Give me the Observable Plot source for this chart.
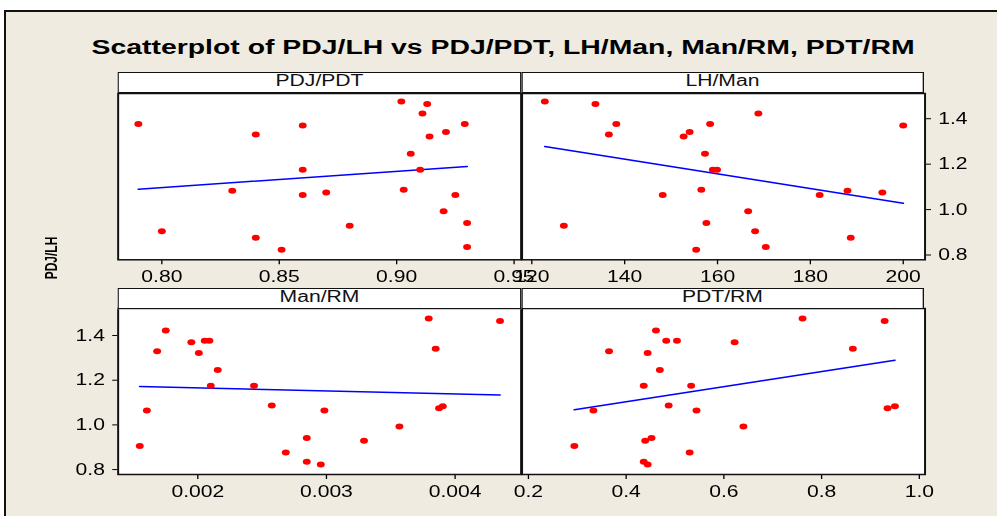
<!DOCTYPE html>
<html><head><meta charset="utf-8">
<script src="https://cdn.jsdelivr.net/npm/d3@7"></script>
<script src="https://cdn.jsdelivr.net/npm/@observablehq/plot@0.6"></script>
<style>
html,body{margin:0;padding:0;background:#fff;}
body{width:997px;height:516px;overflow:hidden;position:relative;font-family:"Liberation Sans",Arial,sans-serif;}
#bg{position:absolute;left:4px;top:10px;width:993px;height:506px;background:#efebe0;border-top:2px solid #111;border-left:2px solid #111;box-sizing:border-box;}
#title{position:absolute;top:37px;left:5px;width:997px;text-align:center;font-weight:bold;font-size:20px;line-height:20px;color:#000;white-space:nowrap;}
#title span{display:inline-block;transform-origin:50% 50%;}
#root{position:absolute;left:0;top:0;width:756px;height:516px;transform:scaleX(1.32);transform-origin:0 0;}
.hdr{position:absolute;box-sizing:border-box;border:1.5px solid #111;background:#fff;text-align:center;font-size:16px;line-height:16px;color:#111;white-space:nowrap;}
.panel{position:absolute;}
.panel svg{overflow:visible;}
#ylab{position:absolute;font-weight:bold;font-size:12px;color:#000;white-space:nowrap;transform:translate(-50%,-50%) rotate(-90deg);}
</style>
</head><body>
<div id="bg"></div>
<div id="title"><span>Scatterplot of PDJ/LH vs PDJ/PDT, LH/Man, Man/RM, PDT/RM</span></div>
<div id="root"></div>
<script>
// ---- data (one entry per observation) ----
const pdjLH  = [1.476,1.465,1.423,1.377,1.377,1.370,1.341,1.330,1.322,1.246,1.175,1.175,1.087,1.083,1.075,1.064,1.064,0.993,0.941,0.929,0.905,0.876,0.835,0.823];
const pdjPDT = [0.902,0.913,0.911,0.790,0.929,0.860,0.921,0.840,0.914,0.906,0.860,0.910,0.903,0.830,0.870,0.860,0.925,0.920,0.930,0.880,0.800,0.840,0.930,0.851];
const lhMan  = [122.8,133.7,168.8,138.2,158.4,200.0,154.0,136.6,152.7,157.3,159.0,159.9,156.5,188.0,195.5,148.2,182.0,166.6,157.6,126.9,168.1,188.7,170.4,155.4];
const manRM  = [0.003795,0.004349,0.001751,0.002054,0.002090,0.001950,0.003849,0.001684,0.002008,0.002155,0.002101,0.002437,0.002575,0.003904,0.003875,0.001604,0.002984,0.003567,0.002847,0.003292,0.001549,0.002684,0.002847,0.002956];
const pdtRM  = [0.761,0.929,0.461,0.482,0.504,0.622,0.864,0.365,0.444,0.469,0.436,0.533,0.487,0.950,0.935,0.333,0.544,0.640,0.452,0.439,0.294,0.530,0.436,0.444];

const panelNames = ["PDJ/PDT","LH/Man","Man/RM","PDT/RM"];
const yName = "PDJ/LH";
const xTicksPDJPDT = [0.80,0.85,0.90,0.95];
const xTicksLHMan  = [120,140,160,180,200];
const xTicksManRM  = [0.002,0.003,0.004];
const xTicksPDTRM  = [0.2,0.4,0.6,0.8,1.0];
const yTicks = [0.8,1.0,1.2,1.4];

// ---- layout ----
const S = 1.32; // horizontal stretch of the original picture
const root = document.getElementById("root");
const gx = [118, 521, 924].map(v => v / S);
const rowsL = [
  {hTop: 72, pTop: 92.7, pBot: 259, yDomain: [0.779, 1.511]},
  {hTop: 288, pTop: 308, pBot: 474, yDomain: [0.778, 1.521]}
];
const panels = [
  {name: panelNames[0], xs: pdjPDT, col: 0, row: 0, domain: [0.7814, 0.953], ticks: xTicksPDJPDT, fmt: d3.format(".2f"), yAxis: null},
  {name: panelNames[1], xs: lhMan,  col: 1, row: 0, domain: [117.9, 204.7], ticks: xTicksLHMan, fmt: d3.format("d"), yAxis: "right"},
  {name: panelNames[2], xs: manRM,  col: 0, row: 1, domain: [0.001381, 0.004513], ticks: xTicksManRM, fmt: d3.format(".3f"), yAxis: "left"},
  {name: panelNames[3], xs: pdtRM,  col: 1, row: 1, domain: [0.187, 1.0117], ticks: xTicksPDTRM, fmt: d3.format(".1f"), yAxis: null}
];

const font = '"Liberation Sans", Arial, sans-serif';
for (const p of panels) {
  const r = rowsL[p.row];
  const left = gx[p.col], right = gx[p.col + 1];
  const pw = right - left, ph = r.pBot - r.pTop;
  const mL = 40, mR = 40, mT = 4, mB = 32;
  const data = p.xs.map((x, i) => ({x, y: pdjLH[i]}));
  const chart = Plot.plot({
    width: pw + mL + mR, height: ph + mT + mB,
    marginLeft: mL, marginRight: mR, marginTop: mT, marginBottom: mB,
    style: {background: "transparent", fontSize: "16px", fontFamily: font, color: "#000", overflow: "visible"},
    x: {domain: p.domain, ticks: p.ticks, tickFormat: p.fmt, tickSize: 5, tickPadding: 6, label: null},
    y: {domain: r.yDomain, ticks: yTicks, tickFormat: d3.format(".1f"), axis: p.yAxis, tickSize: 4, tickPadding: 6, label: null},
    marks: [
      Plot.frame({fill: "white"}),
      Plot.linearRegressionY(data, {x: "x", y: "y", ci: 0, stroke: "#0000ff", strokeWidth: 1.5}),
      Plot.dot(data, {x: "x", y: "y", r: 3, fill: "#ff0000", stroke: "none"}),
      Plot.frame({stroke: "#111", strokeWidth: 1.5})
    ]
  });
  const wrap = document.createElement("div");
  wrap.className = "panel";
  wrap.style.left = (left - mL) + "px";
  wrap.style.top = (r.pTop - mT) + "px";
  wrap.appendChild(chart);
  root.appendChild(wrap);

  const hdr = document.createElement("div");
  hdr.className = "hdr";
  hdr.style.left = left + "px";
  hdr.style.top = r.hTop + "px";
  hdr.style.width = pw + "px";
  hdr.style.height = (r.pTop - r.hTop + 0.75) + "px";
  hdr.textContent = p.name;
  root.appendChild(hdr);
}

const yl = document.createElement("div");
yl.id = "ylab";
yl.textContent = yName;
yl.style.left = (51 / S) + "px";
yl.style.top = "258px";
root.appendChild(yl);

// fit title width to the original
const ts = document.querySelector("#title span");
const tw = ts.getBoundingClientRect().width;
ts.style.transform = `scaleX(${823 / tw})`;
</script>
</body></html>
